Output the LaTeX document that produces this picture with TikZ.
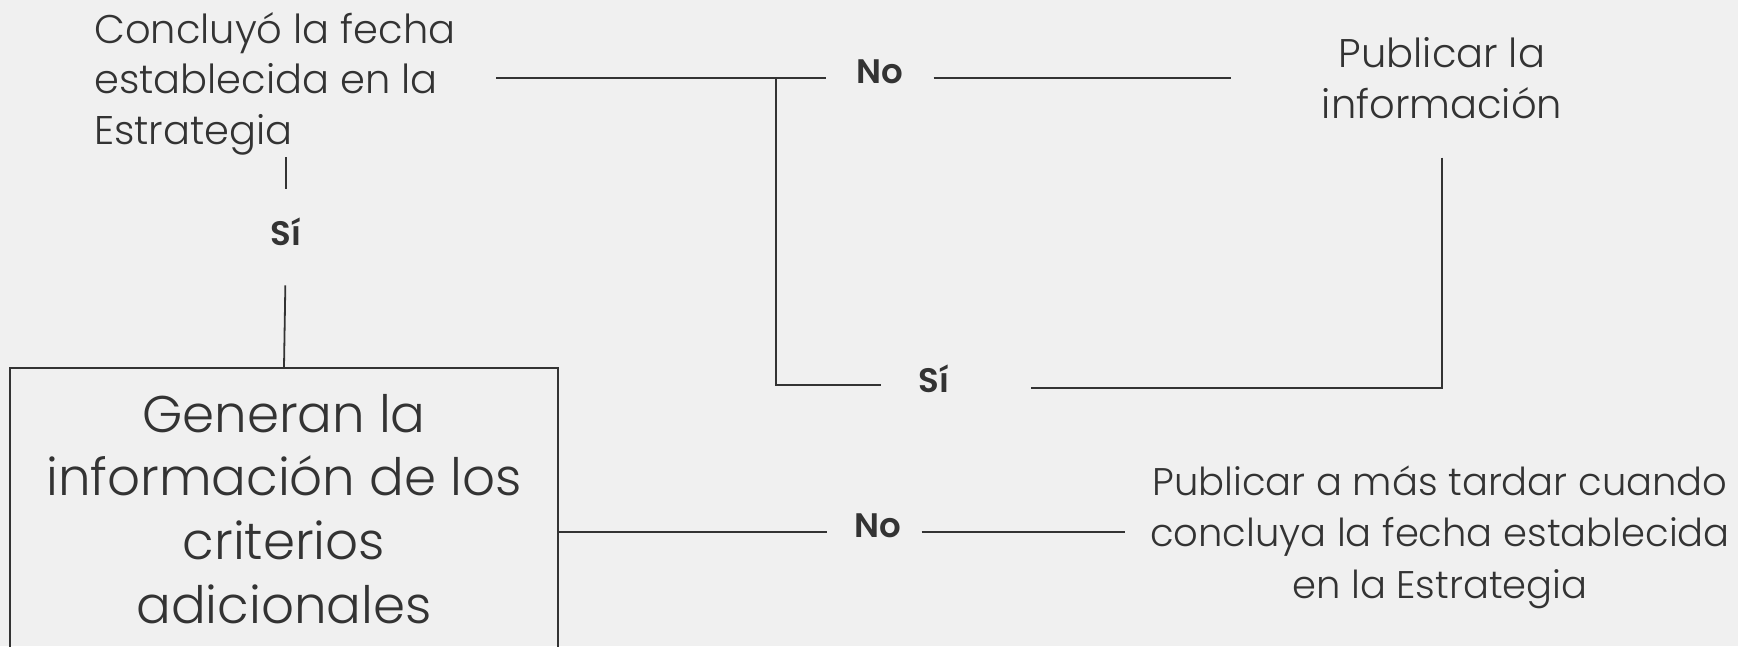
\documentclass[tikz,border=0pt]{standalone}
\usepackage{fontspec}
\usepackage{xcolor}
\usetikzlibrary{calc}

\IfFontExistsTF{Poppins Light}{\newfontfamily\notefont{Poppins Light}}{\newfontfamily\notefont{Poppins}}
\IfFontExistsTF{Poppins SemiBold}{\newfontfamily\ansfont{Poppins SemiBold}}{\newfontfamily\ansfont{Poppins}}

\definecolor{paper}{HTML}{F0F0F0}
\definecolor{ink}{HTML}{333333}

\begin{document}
\begin{tikzpicture}[x=1pt, y=-1pt,
  note/.style={font=\notefont\fontsize{40}{50.5}\selectfont, text=ink, inner sep=0pt},
  answer/.style={font=\ansfont\fontsize{34}{40}\selectfont, text=ink, inner sep=0pt},
  link/.style={draw=ink, line width=1.8pt}]

% Background
\useasboundingbox (0,0) rectangle (1738,646);
\fill[paper] (0,0) rectangle (1738,646);
\clip (0,0) rectangle (1738,646);

% Texts (base = last line)
\node[note, align=left, anchor=base west] (quest) at (94,144) {Concluyó la fecha\\establecida en la\\Estrategia};
\node[note, align=center, anchor=base] (pub) at (1442,118) {Publicar la\\información};
\node[note, font=\notefont\fontsize{38.5}{51.5}\selectfont, align=center, anchor=base] (late) at (1440,598)
  {Publicar a más tardar cuando\\concluya la fecha establecida\\en la Estrategia};
\node[note, font=\notefont\fontsize{51.5}{63.7}\selectfont, align=center, draw=ink, line width=1.8pt,
  minimum width=548pt, minimum height=282pt, anchor=north] (gen) at (284,367)
  {Generan la\\información de los\\criterios\\adicionales};

% Answers
\node[answer, anchor=base] (siA) at (286,245) {Sí};
\node[answer, anchor=base] (noA) at (880,83) {No};
\node[answer, anchor=base] (siB) at (934,392) {Sí};
\node[answer, anchor=base] (noB) at (878,537) {No};

% Points
\coordinate (qout) at (496,78);
\coordinate (qdown) at (286,157);
\coordinate (split) at (776,78);
\coordinate (sibend) at (776,385);
\coordinate (pubin) at (1231,78);
\coordinate (pubbend) at (1442,388);
\coordinate (lowline) at (0,532);

% Lines
\draw[link, shorten >=30pt] (qout) -- (noA.west |- qout);
\draw[link, shorten <=30pt] (noA.east |- qout) -- (pubin);
\draw[link, shorten >=38pt] (split) -- (sibend) -- (siB.west |- sibend);
\draw[link, shorten <=39pt, shorten >=82pt] (pub.south) -- (pubbend) -- (pubbend -| siB.east);
\draw[link, shorten >=28pt] (qdown) -- (siA.north);
\draw[link, shorten <=40pt] (siA.south) -- (gen.north);
\draw[link, shorten >=27pt] (gen.east |- lowline) -- (noB.west |- lowline);
\draw[link, shorten <=20pt, shorten >=25pt] (noB.east |- lowline) -- (late.west |- lowline);

\end{tikzpicture}
\end{document}
